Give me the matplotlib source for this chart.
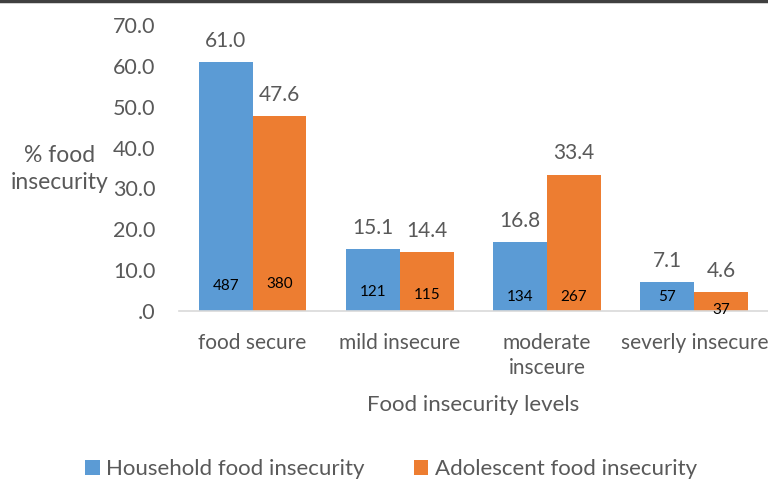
import matplotlib

matplotlib.use("Agg")
import matplotlib.pyplot as plt
from matplotlib.lines import Line2D
import numpy as np

plt.rcParams["font.family"] = ["Lato", "DejaVu Sans"]

categories = ["food secure", "mild insecure", "moderate\ninsceure", "severly insecure"]
household_pct = [61.0, 15.1, 16.8, 7.1]
adolescent_pct = [47.6, 14.4, 33.4, 4.6]
household_n = [487, 121, 134, 57]
adolescent_n = [380, 115, 267, 37]
# height (in % units) where the count labels sit inside the bars
household_n_y = [6.2, 4.7, 3.4, 3.4]
adolescent_n_y = [6.7, 3.9, 3.4, 0.2]
yticks = [0, 10, 20, 30, 40, 50, 60, 70]
ytick_labels = [".0", "10.0", "20.0", "30.0", "40.0", "50.0", "60.0", "70.0"]

blue = "#5B9BD5"
orange = "#ED7D31"
gray = "#595959"

fig = plt.figure(figsize=(7.68, 4.79), dpi=100)
axis = fig.add_axes([0.233, 0.3507, 0.767, 0.5973])

x = np.arange(len(categories))
width = 0.366
bars_h = axis.bar(x - width / 2, household_pct, width, color=blue, label="Household food insecurity")
bars_a = axis.bar(x + width / 2, adolescent_pct, width, color=orange, label="Adolescent food insecurity")

for bars, values in ((bars_h, household_pct), (bars_a, adolescent_pct)):
    for bar, value in zip(bars, values):
        axis.annotate(f"{value:.1f}", (bar.get_x() + bar.get_width() / 2, value),
                      xytext=(0, 8), textcoords="offset points", ha="center", va="bottom",
                      fontsize=15, color=gray)

for bars, counts, ys in ((bars_h, household_n, household_n_y), (bars_a, adolescent_n, adolescent_n_y)):
    for bar, count, y in zip(bars, counts, ys):
        axis.text(bar.get_x() + bar.get_width() / 2, y, str(count), ha="center", va="center",
                  fontsize=11, color="black", clip_on=False)

axis.set_xlim(-0.5, len(categories) - 0.5)
axis.set_ylim(0, 70)
axis.set_yticks(yticks)
axis.set_yticklabels(ytick_labels, fontsize=15.5, color=gray)
axis.set_xticks(x)
axis.set_xticklabels(categories, fontsize=15, color=gray, linespacing=1.3)
axis.tick_params(axis="y", length=0, pad=17)
axis.tick_params(axis="x", length=0, pad=16)
for side in ("top", "right", "left"):
    axis.spines[side].set_visible(False)
axis.spines["bottom"].set_color("#D9D9D9")
axis.spines["bottom"].set_linewidth(1.2)

axis.set_xlabel("Food insecurity levels", fontsize=16, color=gray, labelpad=12)
fig.text(60 / 768, 1 - 169 / 479, "% food\ninsecurity", ha="center", va="center",
         fontsize=16.5, color=gray, linespacing=1.35)

fig.legend(loc="center", bbox_to_anchor=(391 / 768, 10 / 479), ncol=2, frameon=False,
           fontsize=16, labelcolor=gray, handlelength=0.65, handleheight=0.65,
           handletextpad=0.3, columnspacing=2.2)

fig.add_artist(Line2D([0, 1], [0.998, 0.998], color="#404040", linewidth=2.5, transform=fig.transFigure))

fig.savefig("out.png", dpi=100)
plt.close(fig)
